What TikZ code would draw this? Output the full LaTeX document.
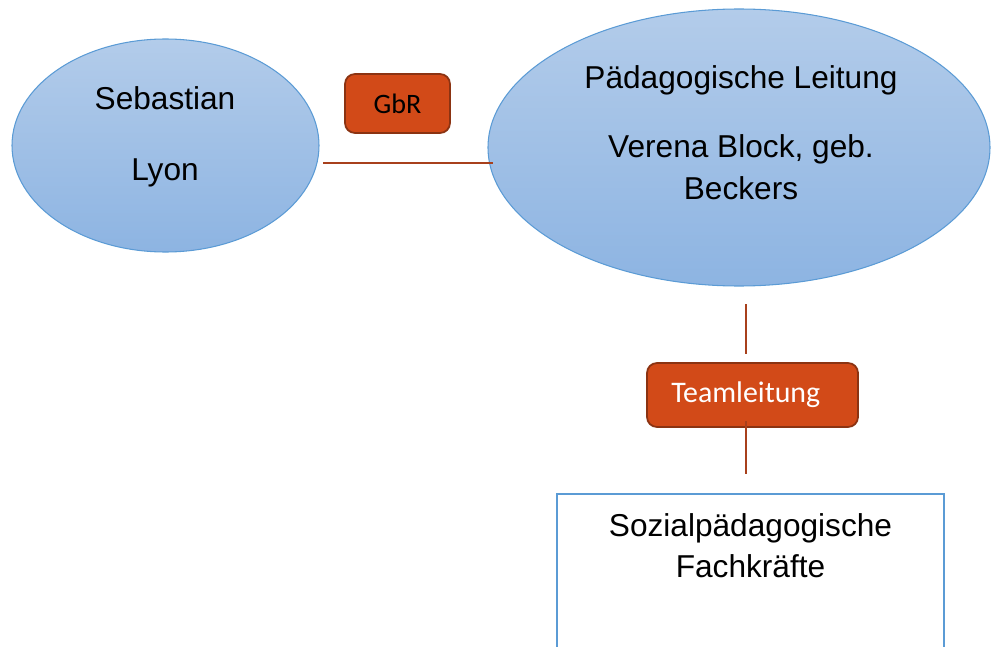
\documentclass[tikz,border=0pt]{standalone}
\usepackage{fontspec}
\setmainfont{Liberation Sans}
\newfontfamily\calibrifont{Carlito}
\usetikzlibrary{shapes.geometric}
\definecolor{blobline}{HTML}{5B9BD5}
\definecolor{blobtop}{HTML}{B3CCEA}
\definecolor{blobbottom}{HTML}{8DB4E2}
\definecolor{tagfill}{HTML}{D24A18}
\definecolor{tagline}{HTML}{8B3312}
\definecolor{linkred}{HTML}{A8401C}

\begin{document}
\begin{tikzpicture}[font=\fontsize{18}{23.5}\selectfont,
	blob/.style={ellipse,draw=blobline,line width=0.6pt,top color=blobtop,bottom color=blobbottom,inner sep=0pt},
	tag/.style={rounded corners=0.2cm,draw=tagline,line width=1pt,fill=tagfill,inner sep=0pt,font=\calibrifont\fontsize{16}{19}\selectfont},
	link/.style={draw=linkred,line width=0.85pt}]
				\useasboundingbox (0,0) rectangle (19.82,12.92);
				\clip (0,0) rectangle (19.82,12.92);

				\node[blob,minimum width=6.14cm,minimum height=4.26cm] (sebastian) at (3.31,10.01) {};
				\node[blob,minimum width=10.04cm,minimum height=5.54cm] (leitung) at (14.78,9.97) {};
				\node[align=center] (sebastiantext) at (3.3,10.19) {Sebastian\\[17pt]Lyon};
				\node[align=center] (leitungtext) at (14.82,10.27) {P\"adagogische Leitung\\[16pt]Verena Block, geb.\\Beckers};

				\node[tag,minimum width=2.1cm,minimum height=1.18cm] (gbr) at (7.95,10.85) {GbR};
				\node[tag,minimum width=4.22cm,minimum height=1.28cm,text=white,font=\calibrifont\fontsize{17}{20}\selectfont] (teamleitung) at (15.05,5.02) {Teamleitung\kern0.27cm};

				\coordinate (gbrleft) at (6.46,9.66);
				\coordinate (gbrright) at (9.86,9.66);
				\coordinate (leitungfoot) at (14.92,6.84);
				\coordinate (teamtop) at (14.92,5.84);
				\coordinate (teamfoot) at (14.92,4.5);
				\coordinate (fachtop) at (14.92,3.44);
				\draw[link] (gbrleft) -- (gbrright);
				\draw[link] (leitungfoot) -- (teamtop);
				\draw[link] (teamfoot) -- (fachtop);

				\draw[draw=blobline,line width=1.1pt] (11.14,-0.4) rectangle (18.88,3.04);
				\node[align=center] (fachkraefte) at (15.01,2.0) {Sozialp\"adagogische\\Fachkr\"afte};
			\end{tikzpicture}
\end{document}
